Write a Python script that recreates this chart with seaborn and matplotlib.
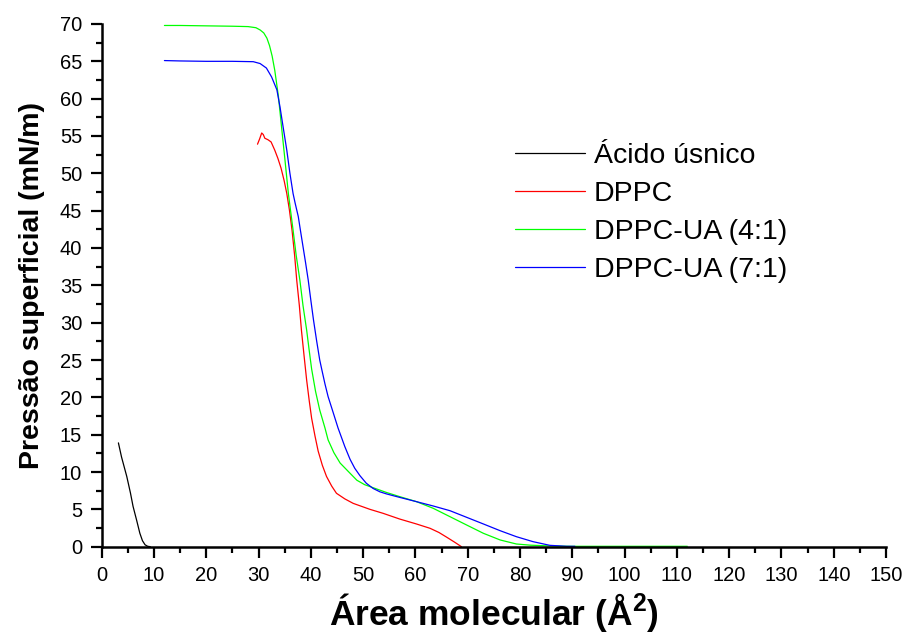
import numpy as np
import pandas as pd
import matplotlib
matplotlib.use("Agg")
import matplotlib.pyplot as plt
import seaborn as sns
from matplotlib.ticker import MultipleLocator

# ---- data ----
ua_x = [3.2, 3.8, 4.8, 5.5, 6.0, 6.7, 7.3, 7.8, 8.3, 8.8, 9.3]
ua_y = [13.9, 12.0, 9.4, 7.2, 5.4, 3.5, 1.8, 0.8, 0.25, 0.05, 0.0]

dppc_x = [29.8, 30.2, 30.6, 30.9, 31.2, 31.8, 32.4, 33.1, 33.7, 34.3, 34.9, 35.4,
          35.9, 36.4, 36.9, 37.3, 37.8, 38.2, 38.7, 39.2, 39.7, 40.15, 40.8,
          41.4, 42.2, 43.0, 44.0, 44.9, 46.5, 48.1, 51.3, 53.8, 57.0, 60.2, 62.8,
          64.5, 66.0, 67.5, 68.8]
dppc_y = [53.9, 54.6, 55.4, 55.2, 54.7, 54.5, 54.2, 53.1, 52.0, 50.7, 49.0, 47.3,
          45.1, 42.4, 39.0, 35.7, 32.3, 29.0, 25.6, 22.3, 19.5, 17.2, 14.8,
          12.8, 10.9, 9.4, 8.1, 7.15, 6.4, 5.8, 5.0, 4.47, 3.7, 3.04, 2.46, 1.9,
          1.26, 0.6, 0.0]

ua41_x = [12, 15, 20, 25, 28, 29.5, 30.3, 31.0, 31.6, 32.1, 32.6, 33.1, 33.8,
          34.4, 35.05, 35.7, 36.6, 37.2, 37.9, 38.5, 39.2, 39.7, 40.15, 40.9,
          41.7, 42.7, 43.3, 44.4, 45.6, 47.5, 48.8, 50.3, 51.9, 54.5, 57.0, 60.2,
          63.4, 66.6, 69.8, 73.0, 76.2, 79.3, 82, 85.7, 90, 100, 112]
ua41_y = [69.8, 69.8, 69.75, 69.7, 69.65, 69.5, 69.2, 68.8, 68.1, 67.1, 65.7,
          63.8, 60.3, 56.2, 51.8, 47.3, 42.4, 39.0, 35.7, 32.3, 29.0, 26.2,
          23.8, 20.8, 18.3, 15.9, 14.3, 12.6, 11.2, 9.83, 8.9, 8.3, 7.9, 7.25,
          6.7, 6.03, 5.14, 4.02, 2.9, 1.79, 0.9, 0.36, 0.2, 0.1, 0.05, 0.05, 0.05]

ua71_x = [12, 15, 20, 25, 29, 30.3, 31.5, 32.5, 33.5, 34.1, 34.7, 35.4, 36.0,
          36.6, 37.0, 37.3, 37.6, 38.0, 38.5, 39.0, 39.5, 40.0, 40.5, 41.1, 41.7,
          42.1, 42.7, 43.3, 44.3, 45.2, 46.5, 47.5, 48.4, 49.4, 50.6, 51.9, 53.2,
          54.5, 57.0, 60.2, 63.4, 66.6, 69.8, 73.0, 76.2, 79.3, 82.5, 85.7, 88.9,
          90.5]
ua71_y = [65.1, 65.05, 65.0, 65.0, 64.95, 64.7, 64.1, 62.9, 61.2, 58.9, 56.2,
          53.1, 50.0, 47.3, 46.0, 45.1, 44.2, 42.4, 40.2, 38.0, 35.7, 33.0, 30.4,
          27.6, 25.0, 23.7, 21.8, 20.1, 17.9, 15.9, 13.4, 11.7, 10.5, 9.5, 8.5,
          7.8, 7.35, 7.06, 6.6, 6.03, 5.45, 4.82, 3.93, 3.04, 2.14, 1.34, 0.67,
          0.18, 0.05, 0.05]

series_names = ["Ácido úsnico", "DPPC", "DPPC-UA (4:1)", "DPPC-UA (7:1)"]
series_x = [ua_x, dppc_x, ua41_x, ua71_x]
series_y = [ua_y, dppc_y, ua41_y, ua71_y]
colors = ["#000000", "#FF0000", "#00FF00", "#0000FF"]

frames = []
for name, xs, ys in zip(series_names, series_x, series_y):
    frames.append(pd.DataFrame({"x": xs, "y": ys, "serie": name}))
df = pd.concat(frames, ignore_index=True)

sns.set_theme(style="ticks")
plt.rcParams["font.family"] = ["Liberation Sans", "DejaVu Sans"]
plt.rcParams["mathtext.fontset"] = "custom"
plt.rcParams["mathtext.rm"] = "Liberation Sans"
plt.rcParams["mathtext.bf"] = "Liberation Sans:bold"
plt.rcParams["text.color"] = "black"
plt.rcParams["axes.labelcolor"] = "black"
plt.rcParams["xtick.color"] = "black"
plt.rcParams["ytick.color"] = "black"

fig = plt.figure(figsize=(9.07, 6.43), dpi=100)
ax = fig.add_axes([0.1121, 0.1498, 0.8648, 0.8129])

sns.lineplot(data=df, x="x", y="y", hue="serie", hue_order=series_names,
             palette=dict(zip(series_names, colors)), sort=False,
             estimator=None, linewidth=0.9, ax=ax)

ax.set_xlim(0, 150)
ax.set_ylim(0, 70)
ax.xaxis.set_major_locator(MultipleLocator(10))
ax.xaxis.set_minor_locator(MultipleLocator(5))
ax.yaxis.set_major_locator(MultipleLocator(5))
ax.yaxis.set_minor_locator(MultipleLocator(2.5))

for s in ["top", "right"]:
    ax.spines[s].set_visible(False)
for s in ["left", "bottom"]:
    ax.spines[s].set_linewidth(1.8)
    ax.spines[s].set_color("black")

ax.tick_params(which="major", direction="out", length=8, width=1.6,
               labelsize=14.5, colors="black", labelcolor="black", pad=6)
ax.tick_params(which="minor", direction="out", length=4, width=1.6,
               colors="black")

ax.set_xlabel(r"Área molecular (Å$^{\mathbf{2}}$)", fontsize=25.5,
              fontweight="bold", labelpad=4, color="black")
ax.set_ylabel("Pressão superficial (mN/m)", fontsize=20.5, fontweight="bold",
              labelpad=11, color="black")

leg = ax.legend(loc="upper left", bbox_to_anchor=(515 / 907, 1 - 143 / 643),
                bbox_transform=fig.transFigure, frameon=False, fontsize=20.5,
                handlelength=2.45, handletextpad=0.32, labelspacing=0.42,
                borderpad=0, borderaxespad=0)
for h in leg.get_lines():
    h.set_linewidth(0.9)
for t in leg.get_texts():
    t.set_color("black")

fig.savefig("out.png", dpi=100)
